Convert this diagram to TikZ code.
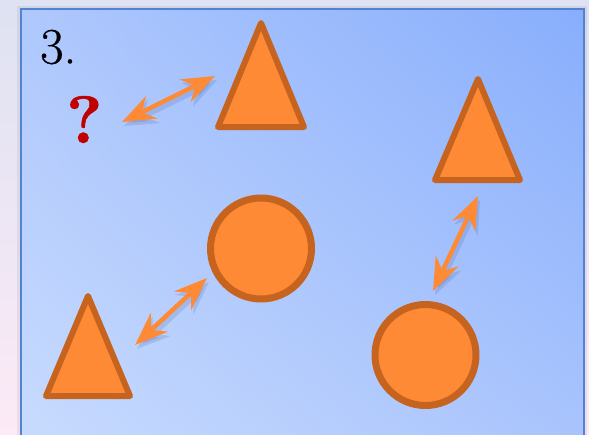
\documentclass[tikz,border=0pt]{standalone}
\usepackage{fontspec}
\setmainfont{Latin Modern Roman}
\newfontfamily\numfont[FakeBold=0.6]{Latin Modern Roman}
\newfontfamily\qfont[Extension=.otf, FakeBold=0.8]{lmroman10-bold}
\usetikzlibrary{arrows.meta,shadings}
\definecolor{bgtop}{HTML}{DEE2F2}
\definecolor{bgbot}{HTML}{FCEAF6}
\definecolor{panlight}{HTML}{C8DBFE}
\definecolor{panmid}{HTML}{AFC8FD}
\definecolor{pandark}{HTML}{88AEFC}
\definecolor{panborder}{HTML}{5282D2}
\definecolor{orfill}{HTML}{FF8A35}
\definecolor{orline}{HTML}{C6631F}
\definecolor{qred}{HTML}{C00000}
\definecolor{shadowc}{HTML}{4A64A8}
\tikzset{
  shapeline/.style={draw=orline, fill=orfill, line width=6pt, line join=round},
  circshape/.style={circle, draw=orline, fill=orfill, line width=7pt, inner sep=0pt, minimum size=101pt},
  arr/.style={draw=orfill, line width=4.5pt, {Stealth[length=33pt,width=25pt,inset=11pt]}-{Stealth[length=33pt,width=25pt,inset=11pt]}},
  arrshadow/.style={draw=shadowc, opacity=0.2, line width=5.5pt, {Stealth[length=33pt,width=26pt,inset=11pt]}-{Stealth[length=33pt,width=26pt,inset=11pt]}, transform canvas={shift={(2pt,-4pt)}}},
}
\begin{document}
\begin{tikzpicture}[x=1pt,y=-1pt]
\useasboundingbox (0,0) rectangle (589,434);
% outer background
\shade[top color=bgtop, bottom color=bgbot] (0,0) rectangle (589,434);
% panel shadow
\fill[black, opacity=0.06] (17,6) rectangle (587,440);
% panel
\shade[upper right=pandark, upper left=panmid, lower left=panlight, lower right=panmid!85!pandark] (21,9) rectangle (584,440);
\draw[panborder, line width=2.2pt] (21,440) -- (21,9) -- (584,9) -- (584,440);

% text
\node[anchor=base west, inner sep=0pt, text=black] (num) at (40,63.5) {\numfont\fontsize{51}{60}\selectfont 3.};
\node[anchor=base west, inner sep=0pt, text=qred] (q) at (66,143) {\qfont\fontsize{67}{75}\selectfont ?};

% triangles
\draw[shapeline] (261,23) -- (304,127) -- (218,127) -- cycle;
\draw[shapeline] (478,79) -- (520,180) -- (435,180) -- cycle;
\draw[shapeline] (88,296) -- (130,396) -- (46,396) -- cycle;

% circles
\node[circshape] (c1) at (261,248.5) {};
\node[circshape] (c2) at (425.5,355) {};

% arrow end points
\coordinate (a1s) at (122,122);
\coordinate (a1e) at (215,76);
\coordinate (a2s) at (135,345);
\coordinate (a2e) at (207,278);
\coordinate (a3s) at (433,291);
\coordinate (a3e) at (478,196);

% arrow shadows
\draw[arrshadow] (a1s) -- (a1e);
\draw[arrshadow] (a2s) -- (a2e);
\draw[arrshadow] (a3s) -- (a3e);
% arrows
\draw[arr] (a1s) -- (a1e);
\draw[arr] (a2s) -- (a2e);
\draw[arr] (a3s) -- (a3e);
\end{tikzpicture}
\end{document}
